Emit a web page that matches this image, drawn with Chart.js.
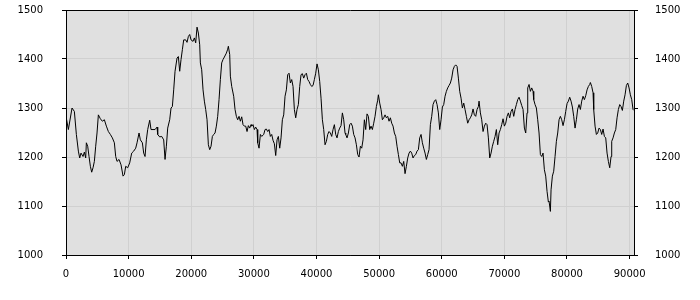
<!DOCTYPE html>
<html><head><meta charset="utf-8">
<script src="https://cdn.jsdelivr.net/npm/chart.js@4/dist/chart.umd.min.js"></script>
<style>html,body{margin:0;padding:0;background:#fff;}#wrap{width:700px;height:300px;}</style>
</head><body><div id="wrap"><canvas id="c" width="700" height="300"></canvas></div>
<script>
const xValues = [
0,377,963,1335,1655,1974,2187,2400,2719,2932,3145,3252,3465,3677,3890,4103,4316,4529,4742,4955,5168,5487,5807,6126,6445,6765,7084,7404,7723,7936,8149,8468,8788,9107,9320,9533,9852,10172,10491,10810,11130,11343,11662,11875,12194,12407,12620,12833,13046,13365,13578,13898,14217,14536,
14643,14962,15282,15601,15814,16027,16240,16559,16772,16985,17198,17411,17730,17943,18156,18369,18582,18795,19114,19327,19540,19753,19966,20285,20498,20711,20924,21137,21350,21456,21669,21882,22095,22308,22521,22734,22947,23160,23373,23586,23799,24011,24224,24437,24650,24863,25076,25289,25608,25821,25928,26141,26247,26460,26779,26992,27205,27418,27631,27844,28057,28270,28483,28696,28909,29122,29334,29547,
29654,29867,30080,30293,30506,30612,30825,31038,31251,31570,31783,31996,32209,32422,32635,32848,33061,33274,33487,33699,33912,34125,34338,34551,34764,34977,35190,35403,35616,35829,36042,36255,36467,36680,36893,37106,37319,37532,37745,37958,38171,38384,38597,38810,39022,39235,39448,39661,39874,40087,40300,40513,40726,40939,41152,41365,41578,41791,42003,42216,42429,42642,42855,43068,43281,43494,43707,43920,44133,44345,44558,
44665,44878,45091,45304,45517,45730,45943,46156,46368,46581,46794,47007,47220,47433,47646,47859,48072,48285,48498,48710,48923,49136,49349,49562,49775,49882,50094,50307,50520,50733,50946,51159,51372,51585,51798,52011,52224,52437,52650,52862,53075,53288,53501,53714,53927,54140,54353,54566,54779,54992,55205,55417,55630,55843,56056,56269,56482,56695,56908,57121,57334,57547,57760,57972,58185,58398,58611,58824,59037,59250,59463,
59676,59889,60102,60315,60528,60741,60954,61166,61379,61592,61805,62018,62231,62444,62657,62870,63083,63296,63509,63721,63934,64147,64360,64573,64786,64999,65212,65425,65638,65851,65957,66170,66383,66596,66809,67022,67235,67448,67661,67873,68086,68299,68512,68725,68938,69151,69364,69577,69790,70003,70216,70428,70641,70854,71067,71280,71493,71706,71919,72132,72345,72558,72771,72984,73196,73409,73622,73729,73942,74155,74368,74581,
74686,74899,75112,75325,75538,75751,75964,76176,76389,76602,76815,77028,77135,77348,77454,77667,77880,78093,78306,78519,78732,78944,79157,79370,79583,79796,80009,80222,80435,80648,80861,81074,81287,81500,81712,81925,82138,82351,82564,82777,82990,83203,83416,83629,83735,83948,84161,84267,84480,84693,84906,85119,85332,85545,85758,85971,86184,86397,86610,86823,87035,87142,87355,87568,87781,87994,88207,88420,88633,88846,89059,89272,89485,89698,89910,90123,90336,90549,90700
];
const yValues = [
1283,1256,1300,1293,1246,1212,1198,1208,1201,1210,1198,1229,1222,1201,1181,1169,1178,1191,1222,1249,1286,1278,1273,1276,1263,1252,1246,1239,1229,1201,1191,1195,1184,1161,1164,1181,1178,1188,1208,1212,1218,1229,1249,1235,1229,1208,1201,1235,1256,1275,1256,1256,1256,1261,
1246,1241,1242,1235,1195,1222,1259,1276,1300,1303,1337,1375,1402,1405,1375,1399,1419,1439,1439,1434,1446,1450,1439,1436,1443,1433,1465,1453,1429,1392,1378,1337,1314,1297,1276,1225,1215,1222,1242,1246,1249,1263,1283,1317,1358,1392,1399,1404,1412,1420,1426,1409,1365,1344,1324,1297,1283,1276,1283,1273,1282,1266,1263,1263,1252,1264,1259,1266,
1263,1266,1256,1261,1256,1229,1218,1246,1242,1246,1256,1257,1252,1256,1242,1246,1234,1227,1203,1235,1242,1218,1239,1276,1286,1324,1337,1368,1371,1351,1358,1344,1297,1280,1297,1307,1344,1368,1370,1361,1368,1371,1358,1354,1348,1344,1346,1358,1371,1390,1378,1354,1320,1276,1256,1225,1232,1246,1252,1249,1242,1256,1266,1246,1239,1252,1259,1264,1290,1276,1249,
1246,1239,1249,1266,1269,1263,1246,1239,1225,1205,1200,1222,1218,1235,1276,1256,1288,1283,1256,1263,1256,1269,1283,1303,1316,1327,1310,1297,1276,1280,1286,1280,1283,1273,1280,1269,1263,1249,1242,1222,1205,1188,1188,1181,1191,1166,1181,1198,1208,1212,1208,1198,1203,1205,1212,1215,1239,1246,1229,1218,1208,1195,1205,1215,1266,1283,1307,1314,1317,1307,1290,
1256,1276,1302,1307,1324,1334,1341,1346,1351,1361,1378,1385,1388,1385,1361,1334,1320,1300,1310,1297,1283,1269,1276,1280,1286,1298,1286,1283,1297,1303,1314,1290,1276,1252,1263,1269,1266,1239,1198,1208,1222,1232,1242,1256,1225,1249,1256,1266,1278,1263,1269,1283,1290,1280,1293,1298,1283,1297,1307,1317,1322,1314,1305,1297,1259,1249,1290,1341,1348,1334,1341,1334,
1317,1307,1300,1276,1249,1205,1201,1208,1174,1161,1130,1108,1110,1089,1133,1161,1171,1201,1232,1249,1276,1283,1276,1264,1276,1293,1309,1314,1322,1314,1302,1283,1259,1276,1298,1307,1297,1314,1324,1317,1325,1337,1344,1348,1352,1344,1331,1297,1263,1246,1249,1259,1256,1246,1257,1242,1239,1208,1191,1178,1201,1232,1239,1249,1256,1280,1297,1307,1303,1295,1314,1327,1346,1351,1341,1327,1317,1297,1295
];
const xTickValues = [0,10000,20000,30000,40000,50000,60000,70000,80000,90000];
const yTickValues = [1000,1100,1200,1300,1400,1500];
const xRange = [0, 90700];
const yRange = [1000, 1500];

const points = xValues.map((x, i) => ({x: x, y: yValues[i]}));

const framePlugin = {
  id: 'frame',
  beforeDraw(chart) {
    const {ctx, chartArea: a} = chart;
    ctx.save();
    ctx.fillStyle = '#e0e0e0';
    ctx.fillRect(a.left, a.top, a.right - a.left, a.bottom - a.top);
    ctx.restore();
  },
  afterDraw(chart) {
    const {ctx, chartArea: a} = chart;
    ctx.save();
    ctx.strokeStyle = '#000';
    ctx.lineWidth = 1;
    const l = Math.round(a.left) + 0.5, t = Math.round(a.top) + 0.5;
    const r = Math.round(a.right) + 0.5, b = Math.round(a.bottom) + 0.5;
    ctx.beginPath();
    ctx.moveTo(l, t); ctx.lineTo(r, t); ctx.lineTo(r, b); ctx.lineTo(l, b); ctx.closePath();
    ctx.stroke();
    ctx.restore();
  }
};

Chart.defaults.font.family = 'DejaVu Sans';
Chart.defaults.font.size = 10;
Chart.defaults.color = '#000';

const yTicksFn = s => { s.ticks = yTickValues.map(v => ({value: v})); };
const yFit = s => { s.width = 66; s.paddingTop = 0; s.paddingBottom = 0; };

new Chart(document.getElementById('c'), {
  type: 'line',
  data: {
    datasets: [{
      data: points,
      borderColor: '#000',
      borderWidth: 1,
      pointRadius: 0,
      tension: 0,
      fill: false
    }]
  },
  options: {
    responsive: false,
    animation: false,
    devicePixelRatio: 1,
    layout: {padding: {top: 10, left: 0, right: 0, bottom: 0}},
    plugins: {legend: {display: false}, tooltip: {enabled: false}},
    scales: {
      x: {
        type: 'linear', position: 'bottom', min: xRange[0], max: xRange[1],
        afterBuildTicks: s => { s.ticks = xTickValues.map(v => ({value: v})); },
        afterFit: s => { s.height = 45; s.paddingLeft = 0; s.paddingRight = 0; },
        ticks: {callback: v => String(v), maxRotation: 0, autoSkip: false, padding: 9, color: '#000'},
        grid: {color: '#d0d0d0', tickColor: '#000', tickLength: 4, lineWidth: 1},
        border: {color: '#000', width: 1}
      },
      y: {
        type: 'linear', position: 'left', min: yRange[0], max: yRange[1],
        afterBuildTicks: yTicksFn,
        afterFit: yFit,
        ticks: {callback: v => String(v), padding: 19, color: '#000'},
        grid: {color: '#d0d0d0', tickColor: '#000', tickLength: 4, lineWidth: 1},
        border: {color: '#000', width: 1}
      },
      y2: {
        type: 'linear', position: 'right', min: yRange[0], max: yRange[1],
        afterBuildTicks: yTicksFn,
        afterFit: yFit,
        ticks: {callback: v => String(v), padding: 17, color: '#000'},
        grid: {drawOnChartArea: false, tickColor: '#000', tickLength: 4, lineWidth: 1},
        border: {color: '#000', width: 1}
      }
    }
  },
  plugins: [framePlugin]
});
</script>
</body></html>
